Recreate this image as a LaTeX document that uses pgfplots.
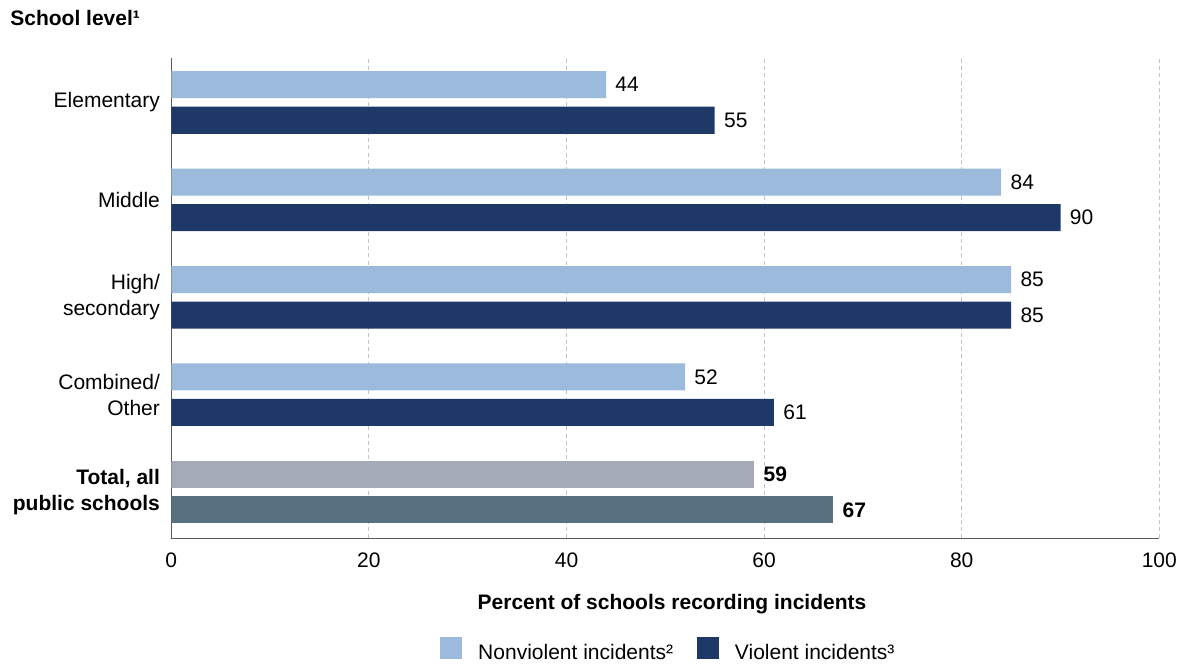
\documentclass[border=0pt]{standalone}
\usepackage{fontspec}
\setmainfont{Liberation Sans}
\usepackage{pgfplots}
\pgfplotsset{compat=1.18}

\definecolor{nonviol}{HTML}{9BBADC}
\definecolor{viol}{HTML}{1E3867}
\definecolor{totnon}{HTML}{A5ABB6}
\definecolor{totviol}{HTML}{587080}
\definecolor{gridgray}{HTML}{C4C4C4}
\definecolor{axisgray}{HTML}{5A5A5A}

\newcommand{\lblfont}{\fontsize{10.5}{13}\selectfont}

\begin{document}
\begin{tikzpicture}[x=1pt,y=1pt]
\path[use as bounding box] (0,0) rectangle (590.5,332);

\node[anchor=west, inner sep=0pt, font=\lblfont\bfseries] at (5,323) {School level¹};

\begin{axis}[
  at={(85.65pt,62.85pt)}, anchor=south west,
  scale only axis, width=494pt, height=240.15pt,
  xbar, bar width=13.5pt,
  xmin=0, xmax=100, ymin=-0.475, ymax=4.457,
  xtick={0,20,...,100}, ytick={0,1,2,3,4},
  yticklabels={{\textbf{Total, all}\\\textbf{public schools}},{Combined/\\Other},{High/\\secondary},Middle,Elementary},
  major tick length=0pt,
  axis x line*=bottom, axis y line*=left,
  axis line style={axisgray, line width=0.75pt, -},
  xmajorgrids,
  major grid style={gridgray, line width=0.5pt, dash pattern=on 2pt off 1.6pt},
  tick label style={font=\lblfont},
  /pgf/number format/assume math mode=true,
  yticklabel style={align=right, inner sep=0pt, xshift=-5.5pt},
  xticklabel style={inner sep=0pt, yshift=-7.2pt},
  point meta=x,
  nodes near coords,
  every node near coord/.append style={font=\lblfont, text=black, anchor=west, inner sep=0pt, xshift=4.5pt},
  legend columns=2,
  legend style={at={(axis description cs:0.5022,-0.2313)}, anchor=center,
    draw=none, fill=none, font=\lblfont, inner sep=0pt,
    nodes={inner sep=0pt},
    /tikz/every odd column/.append style={column sep=8pt},
    /tikz/every even column/.append style={column sep=12pt}},
]
% Nonviolent incidents by school level
\addplot[forget plot, fill=nonviol, draw=none, bar shift=8.875pt] coordinates {
  (44,4) (84,3) (85,2) (52,1)};
% Violent incidents by school level
\addplot[forget plot, fill=viol, draw=none, bar shift=-8.875pt] coordinates {
  (55,4) (90,3) (85,2) (61,1)};
% Totals, all public schools
\addplot[forget plot, fill=totnon, draw=none, bar shift=8.875pt,
  every node near coord/.append style={font=\lblfont\bfseries}] coordinates {(59,0)};
\addplot[forget plot, fill=totviol, draw=none, bar shift=-8.875pt,
  every node near coord/.append style={font=\lblfont\bfseries}] coordinates {(67,0)};

\addlegendimage{legend image code/.code={\fill[nonviol] (0pt,-2.6pt) rectangle (10.5pt,7.9pt);}}
\addlegendentry{Nonviolent incidents²}
\addlegendimage{legend image code/.code={\fill[viol] (0pt,-2.6pt) rectangle (10.5pt,7.9pt);}}
\addlegendentry{Violent incidents³}
\end{axis}

\node[font=\lblfont\bfseries, inner sep=0pt] at (336,30) {Percent of schools recording incidents};
\end{tikzpicture}
\end{document}
